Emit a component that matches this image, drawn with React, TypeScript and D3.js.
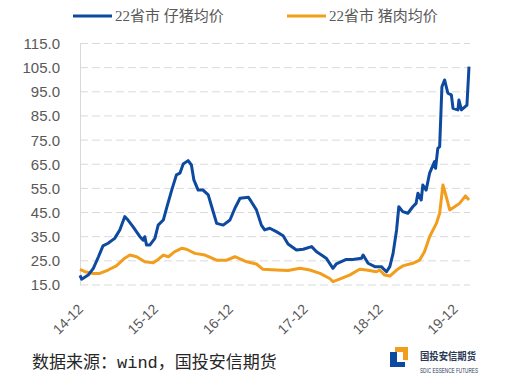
import { useEffect, useRef } from 'react';
import * as d3 from 'd3';

// 22省市 仔猪均价 (元/公斤)
const pigletPrices: [string, number][] = [
  ['2014-12-01', 19.0], ['2014-12-09', 17.4], ['2015-01-10', 19.1], ['2015-02-04', 21.9],
  ['2015-03-01', 26.7], ['2015-03-23', 31.2], ['2015-04-17', 32.3], ['2015-05-19', 34.3],
  ['2015-06-13', 37.8], ['2015-07-07', 43.3], ['2015-07-23', 41.9], ['2015-08-17', 39.1],
  ['2015-09-19', 35.0], ['2015-10-05', 33.6], ['2015-10-13', 35.0], ['2015-10-21', 31.6],
  ['2015-11-07', 31.6], ['2015-12-01', 34.3], ['2015-12-17', 39.8], ['2016-01-11', 41.9],
  ['2016-01-27', 46.8], ['2016-02-21', 54.3], ['2016-03-15', 60.6], ['2016-04-01', 61.3],
  ['2016-04-17', 65.1], ['2016-05-11', 66.5], ['2016-05-27', 64.7], ['2016-06-08', 58.5],
  ['2016-06-29', 54.3], ['2016-07-23', 54.3], ['2016-08-17', 52.3], ['2016-09-03', 47.4],
  ['2016-09-27', 40.5], ['2016-10-29', 39.8], ['2016-12-01', 41.9], ['2016-12-25', 46.8],
  ['2017-01-19', 50.9], ['2017-03-01', 51.3], ['2017-03-15', 49.5], ['2017-04-09', 46.1],
  ['2017-05-03', 39.8], ['2017-05-19', 37.8], ['2017-06-13', 38.5], ['2017-07-15', 37.1],
  ['2017-08-17', 35.4], ['2017-09-10', 32.0], ['2017-10-21', 29.5], ['2017-11-23', 29.8],
  ['2018-01-03', 30.9], ['2018-01-27', 28.8], ['2018-03-15', 26.1], ['2018-04-17', 21.9],
  ['2018-05-03', 23.7], ['2018-06-21', 25.6], ['2018-07-23', 25.6], ['2018-09-03', 26.1],
  ['2018-09-11', 27.4], ['2018-10-05', 24.0], ['2018-11-07', 22.6], ['2018-12-09', 22.6],
  ['2018-12-17', 21.9], ['2019-01-03', 20.5], ['2019-01-19', 22.6], ['2019-02-04', 28.1],
  ['2019-02-21', 37.8], ['2019-03-04', 47.4], ['2019-03-23', 45.4], ['2019-04-17', 44.7],
  ['2019-05-11', 47.4], ['2019-05-27', 48.8], ['2019-06-05', 53.0], ['2019-06-21', 50.2],
  ['2019-06-29', 56.4], ['2019-07-15', 54.3], ['2019-08-01', 61.3], ['2019-08-25', 66.1],
  ['2019-08-30', 63.3], ['2019-09-10', 71.6], ['2019-09-19', 72.3], ['2019-09-30', 97.1],
  ['2019-10-13', 99.9], ['2019-10-29', 94.4], ['2019-11-15', 93.7], ['2019-11-23', 88.2],
  ['2019-12-17', 87.5], ['2019-12-22', 91.6], ['2020-01-03', 87.5], ['2020-01-30', 89.5],
  ['2020-02-09', 105.4],
];

// 22省市 猪肉均价 (元/公斤)
const porkPrices: [string, number][] = [
  ['2014-12-01', 21.5], ['2014-12-25', 20.5], ['2015-02-04', 19.8], ['2015-03-07', 19.8],
  ['2015-04-17', 21.2], ['2015-05-27', 22.9], ['2015-07-07', 26.1], ['2015-08-01', 27.4],
  ['2015-09-03', 26.7], ['2015-10-13', 24.6], ['2015-11-23', 24.2], ['2015-12-17', 25.6],
  ['2016-01-11', 27.4], ['2016-02-05', 26.7], ['2016-03-07', 28.8], ['2016-04-09', 30.2],
  ['2016-05-03', 29.8], ['2016-06-13', 28.1], ['2016-08-01', 27.4], ['2016-09-27', 25.3],
  ['2016-11-15', 25.3], ['2016-12-25', 26.7], ['2017-02-21', 24.6], ['2017-04-09', 23.7],
  ['2017-05-11', 21.5], ['2017-07-15', 21.2], ['2017-09-10', 21.0], ['2017-11-07', 21.9],
  ['2017-12-25', 21.2], ['2018-02-13', 19.8], ['2018-04-01', 17.7], ['2018-04-17', 16.4],
  ['2018-05-19', 17.4], ['2018-07-07', 19.1], ['2018-08-25', 21.5], ['2018-09-27', 21.2],
  ['2018-11-15', 20.5], ['2018-12-01', 21.2], ['2018-12-25', 19.1], ['2019-01-19', 18.7],
  ['2019-02-21', 21.2], ['2019-03-23', 22.9], ['2019-05-11', 24.0], ['2019-06-13', 25.3],
  ['2019-07-07', 28.8], ['2019-08-01', 35.0], ['2019-09-03', 40.5], ['2019-09-19', 44.7],
  ['2019-10-05', 56.4], ['2019-10-21', 51.6], ['2019-11-07', 46.1], ['2019-12-01', 47.4],
  ['2019-12-25', 48.8], ['2020-01-23', 51.9], ['2020-02-09', 50.2],
];

const yTicks = [15, 25, 35, 45, 55, 65, 75, 85, 95, 105, 115];
const xTickDates = ['2014-12-01', '2015-12-01', '2016-12-01', '2017-12-01', '2018-12-01', '2019-12-01'];
const seriesNames = ['22省市 仔猪均价', '22省市 猪肉均价'];
const seriesColors = ['#0d4a9f', '#f29d1c'];

const CJK = '"Noto Sans CJK SC", sans-serif';

export default function App() {
  const svgRef = useRef<SVGSVGElement>(null);
  const width = 520;
  const height = 385;

  useEffect(() => {
    if (!svgRef.current) return;
    const svg = d3.select(svgRef.current);
    svg.selectAll('*').remove();

    const parse = d3.timeParse('%Y-%m-%d');
    const x = d3.scaleTime()
      .domain([parse('2014-12-01')!, parse('2020-02-09')!])
      .range([80, 469]);
    const y = d3.scaleLinear().domain([15, 115]).range([285, 43.5]);

    // 网格线
    svg.append('g')
      .selectAll('line')
      .data(yTicks)
      .enter()
      .append('line')
      .attr('x1', 80)
      .attr('x2', 470)
      .attr('y1', (d) => y(d))
      .attr('y2', (d) => y(d))
      .attr('stroke', '#d9d9d9')
      .attr('stroke-width', 1)
      .attr('stroke-dasharray', '8,4');

    // 左轴线
    svg.append('line')
      .attr('x1', 80.5).attr('x2', 80.5)
      .attr('y1', y(115)).attr('y2', y(15))
      .attr('stroke', '#d9d9d9');

    // Y 轴标签
    svg.append('g')
      .selectAll('text')
      .data(yTicks)
      .enter()
      .append('text')
      .attr('x', 60)
      .attr('y', (d) => y(d))
      .attr('dy', '0.36em')
      .attr('text-anchor', 'end')
      .attr('fill', '#595959')
      .attr('font-family', '"Liberation Sans", Arial, sans-serif')
      .attr('font-size', '15px')
      .text((d) => d.toFixed(1));

    // X 轴标签 (旋转 -45°)
    svg.append('g')
      .selectAll('text')
      .data(xTickDates)
      .enter()
      .append('text')
      .attr('transform', (d) => `translate(${x(parse(d)!) + 4},${310}) rotate(-45)`)
      .attr('text-anchor', 'end')
      .attr('fill', '#595959')
      .attr('font-family', '"Liberation Sans", Arial, sans-serif')
      .attr('font-size', '14px')
      .text((d) => d3.timeFormat('%y-%m')(parse(d)!));

    // 折线
    const line = d3.line<[string, number]>()
      .x((d) => x(parse(d[0])!))
      .y((d) => y(d[1]));

    [porkPrices, pigletPrices].forEach((data, i) => {
      svg.append('path')
        .datum(data)
        .attr('d', line)
        .attr('fill', 'none')
        .attr('stroke', i === 0 ? seriesColors[1] : seriesColors[0])
        .attr('stroke-width', 3)
        .attr('stroke-linejoin', 'round');
    });

    // 图例
    const legendX = [73, 287];
    seriesNames.forEach((name, i) => {
      svg.append('line')
        .attr('x1', legendX[i]).attr('x2', legendX[i] + 39)
        .attr('y1', 16).attr('y2', 16)
        .attr('stroke', seriesColors[i])
        .attr('stroke-width', 3);
      svg.append('text')
        .attr('x', legendX[i] + 42)
        .attr('y', 16)
        .attr('dy', '0.36em')
        .attr('fill', '#595959')
        .attr('font-family', `"Liberation Serif", ${CJK}`)
        .attr('font-size', '15px')
        .text(name);
    });

    // 数据来源
    const src = svg.append('text')
      .attr('x', 32)
      .attr('y', 368)
      .attr('fill', '#262626')
      .attr('font-family', CJK)
      .attr('font-size', '17px');
    src.append('tspan').text('数据来源：');
    src.append('tspan').attr('font-family', '"Liberation Mono", monospace').text('wind');
    src.append('tspan').text('，国投安信期货');

    // 标志
    const logo = svg.append('g');
    logo.append('path')
      .attr('d', 'M395,347 H408 V360 H403 V352 H395 Z')
      .attr('fill', '#f29d1c');
    logo.append('path')
      .attr('d', 'M390,352 H397 V362 H405 V367 H390 Z')
      .attr('fill', '#0d4a9f');
    logo.append('text')
      .attr('x', 420)
      .attr('y', 360)
      .attr('fill', '#2b3a55')
      .attr('font-family', CJK)
      .attr('font-weight', 'bold')
      .attr('font-size', '10px')
      .attr('textLength', 56)
      .attr('lengthAdjust', 'spacingAndGlyphs')
      .text('国投安信期货');
    logo.append('text')
      .attr('x', 420)
      .attr('y', 373)
      .attr('fill', '#2b3a55')
      .attr('font-family', '"Liberation Sans", sans-serif')
      .attr('font-size', '7px')
      .attr('textLength', 58)
      .attr('lengthAdjust', 'spacingAndGlyphs')
      .text('SDIC ESSENCE FUTURES');
  }, []);

  return (
    <svg
      ref={svgRef}
      width={width}
      height={height}
      style={{ position: 'absolute', left: 0, top: 0, background: '#fff' }}
    />
  );
}
